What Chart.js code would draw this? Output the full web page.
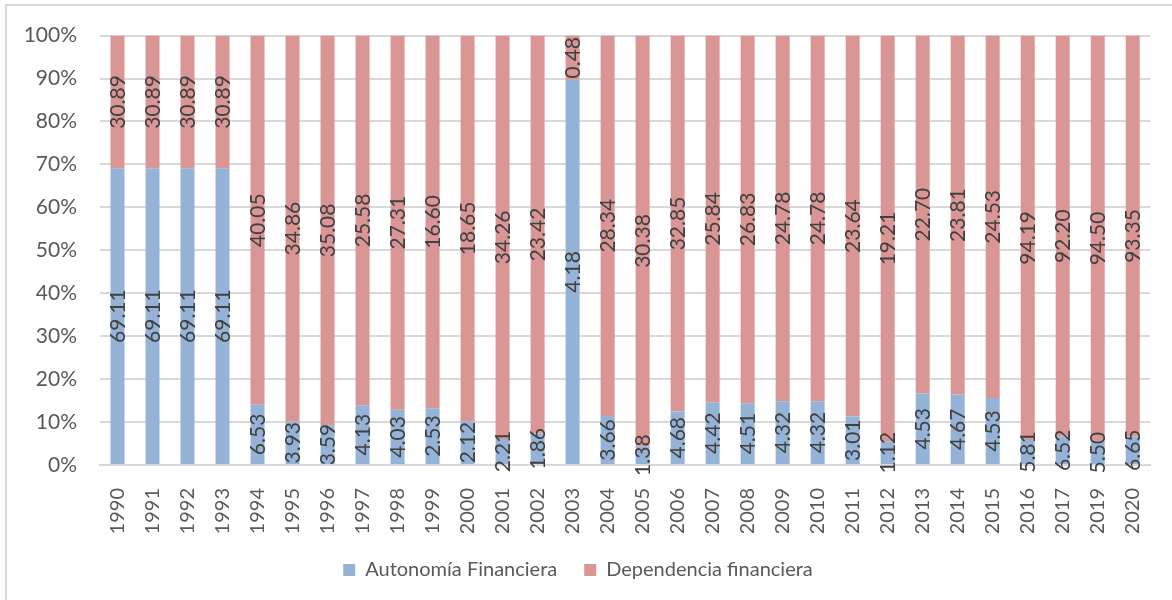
<!DOCTYPE html>
<html lang="es">
<head>
  <meta charset="UTF-8">
  <title>Autonomía y dependencia financiera</title>
  <script src="https://cdn.jsdelivr.net/npm/chart.js@4.4.0/dist/chart.umd.min.js"></script>
  <style>
    body { margin: 0; background: #fff; }
    #caja { position: relative; width: 1172px; height: 600px; }
  </style>
</head>
<body>
  <div id="caja">
    <canvas id="grafico" width="1172" height="600"></canvas>
  </div>

<script>
  const anios = ['1990', '1991', '1992', '1993', '1994', '1995', '1996', '1997', '1998', '1999',
    '2000', '2001', '2002', '2003', '2004', '2005', '2006', '2007', '2008', '2009',
    '2010', '2011', '2012', '2013', '2014', '2015', '2016', '2017', '2019', '2020'];

  const autonomia = [69.11, 69.11, 69.11, 69.11, 6.53, 3.93, 3.59, 4.13, 4.03, 2.53,
    2.12, 2.21, 1.86, 4.18, 3.66, 1.38, 4.68, 4.42, 4.51, 4.32,
    4.32, 3.01, 1.12, 4.53, 4.67, 4.53, 5.81, 6.52, 5.50, 6.65];

  const dependencia = [30.89, 30.89, 30.89, 30.89, 40.05, 34.86, 35.08, 25.58, 27.31, 16.60,
    18.65, 34.26, 23.42, 0.48, 28.34, 30.38, 32.85, 25.84, 26.83, 24.78,
    24.78, 23.64, 19.21, 22.70, 23.81, 24.53, 94.19, 92.20, 94.50, 93.35];

  // barras al 100%: cada año se normaliza a su total
  const pctAutonomia = autonomia.map((v, i) => v / (v + dependencia[i]) * 100);
  const pctDependencia = dependencia.map((v, i) => v / (autonomia[i] + v) * 100);
  const etiquetas = [autonomia, dependencia];

  const fuente = 'Lato, "Open Sans", sans-serif';
  const gris = '#595959';

  // etiquetas de datos giradas, centradas en cada segmento
  const etiquetasDatos = {
    id: 'etiquetasDatos',
    afterDatasetsDraw(chart) {
      const ctx = chart.ctx;
      ctx.save();
      ctx.font = '21px ' + fuente;
      ctx.fillStyle = '#404040';
      ctx.textAlign = 'center';
      ctx.textBaseline = 'middle';
      chart.data.datasets.forEach((ds, d) => {
        chart.getDatasetMeta(d).data.forEach((bar, i) => {
          const y = (bar.y + bar.base) / 2;
          ctx.save();
          ctx.translate(bar.x, y);
          ctx.rotate(-Math.PI / 2);
          ctx.fillText(etiquetas[d][i].toFixed(2), 0, 1);
          ctx.restore();
        });
      });
      ctx.restore();
    }
  };

  const marco = {
    id: 'marco',
    beforeDraw(chart) {
      const ctx = chart.ctx;
      ctx.save();
      ctx.fillStyle = '#fff';
      ctx.fillRect(0, 0, chart.width, chart.height);
      ctx.strokeStyle = '#d9d9d9';
      ctx.lineWidth = 2;
      ctx.beginPath();
      ctx.moveTo(6, chart.height);
      ctx.lineTo(6, 5);
      ctx.lineTo(chart.width, 5);
      ctx.stroke();
      ctx.restore();
    }
  };

  const data = {
    labels: anios,
    datasets: [
      {
        label: 'Autonomía Financiera',
        data: pctAutonomia,
        backgroundColor: '#95b3d7',
        barPercentage: 0.4,
        categoryPercentage: 1
      },
      {
        label: 'Dependencia financiera',
        data: pctDependencia,
        backgroundColor: '#d99694',
        barPercentage: 0.4,
        categoryPercentage: 1
      }
    ]
  };

  const config = {
    type: 'bar',
    data: data,
    options: {
      responsive: false,
      animation: false,
      layout: { padding: { top: 35, right: 16, bottom: 10, left: 0 } },
      plugins: {
        tooltip: { enabled: false },
        legend: {
          position: 'bottom',
          labels: {
            boxWidth: 12,
            boxHeight: 12,
            padding: 27,
            color: gris,
            font: { family: fuente, size: 20 }
          }
        }
      },
      scales: {
        x: {
          stacked: true,
          grid: { display: false },
          border: { display: true, color: '#d9d9d9', width: 2 },
          ticks: {
            color: gris,
            font: { family: fuente, size: 20 },
            minRotation: 90,
            maxRotation: 90,
            autoSkip: false,
            padding: 15
          },
          afterFit(scale) { scale.height = 68; }
        },
        y: {
          stacked: true,
          min: 0,
          max: 100,
          grid: { color: '#d9d9d9', lineWidth: 2, drawTicks: false },
          border: { display: false },
          ticks: {
            stepSize: 10,
            color: gris,
            padding: 23,
            font: { family: fuente, size: 21 },
            callback: (v) => v + '%'
          },
          afterFit(scale) { scale.width = 100; }
        }
      }
    },
    plugins: [marco, etiquetasDatos]
  };

  new Chart(document.getElementById('grafico'), config);
</script>
</body>
</html>
